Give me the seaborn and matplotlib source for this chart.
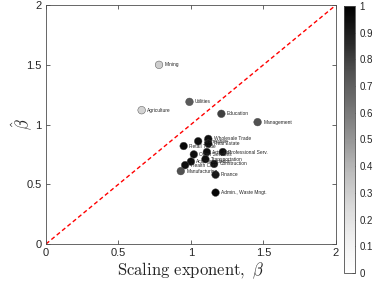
import numpy as np
import pandas as pd
import matplotlib
matplotlib.use("Agg")
import matplotlib.pyplot as plt
import seaborn as sns

# sectors, scaling exponent beta, estimated beta-hat, colour value
sectors = ["Mining", "Agriculture", "Utilities", "Education", "Management",
           "Wholesale Trade", "Real Estate", "Information", "Retail Trade",
           "Arts, Ent.", "Other Services", "Professional Serv.", "Transportation",
           "Accommodation", "Health Care", "Construction", "Manufacturing",
           "Finance", "Admin., Waste Mngt."]
beta = [0.78, 0.66, 0.99, 1.21, 1.46,
        1.12, 1.12, 1.05, 0.95,
        1.11, 1.02, 1.22, 1.10,
        1.00, 0.96, 1.16, 0.93,
        1.17, 1.17]
beta_hat = [1.50, 1.12, 1.19, 1.09, 1.02,
            0.88, 0.84, 0.86, 0.82,
            0.77, 0.75, 0.77, 0.71,
            0.69, 0.66, 0.67, 0.61,
            0.58, 0.43]
shade = [0.30, 0.28, 0.72, 0.80, 0.75,
         0.95, 0.95, 0.95, 0.97,
         0.95, 0.95, 0.95, 0.95,
         0.95, 0.95, 0.95, 0.75,
         0.92, 0.98]

df = pd.DataFrame({"sector": sectors, "beta": beta, "beta_hat": beta_hat, "shade": shade})

sns.set_theme(style="ticks")
plt.rcParams["font.family"] = ["Liberation Sans", "DejaVu Sans"]
plt.rcParams["mathtext.fontset"] = "cm"

fig = plt.figure(figsize=(3.74, 2.84), dpi=100)
ax = fig.add_axes([0.123, 0.141, 0.775, 0.841])
cax = fig.add_axes([0.92, 0.039, 0.029, 0.94])

ax.plot([0, 2], [0, 2], color="red", ls="--", lw=1, dashes=(3, 2))
sns.scatterplot(data=df, x="beta", y="beta_hat", hue="shade", palette="Greys",
                hue_norm=(0, 1), s=30, edgecolor="0.25", linewidth=0.3,
                legend=False, ax=ax, zorder=3)
for s, x, y in zip(sectors, beta, beta_hat):
    ax.annotate(s, (x, y), xytext=(4, 0), textcoords="offset points",
                fontsize=3.5, va="center", ha="left", color="0.15")

ax.set_xlim(0, 2)
ax.set_ylim(0, 2)
ax.set_xticks([0, 0.5, 1, 1.5, 2])
ax.set_yticks([0, 0.5, 1, 1.5, 2])
ax.set_xticklabels(["0", "0.5", "1", "1.5", "2"])
ax.set_yticklabels(["0", "0.5", "1", "1.5", "2"])
ax.tick_params(direction="in", top=True, right=True, labelsize=8, length=3,
               width=0.6, color="0.3", labelcolor="0.15", pad=3)
for sp in ax.spines.values():
    sp.set_linewidth(0.6)
    sp.set_color("0.3")
ax.set_xlabel(r"$\mathrm{Scaling\ exponent,}\ \beta$", fontsize=12, labelpad=2)
ax.set_ylabel(r"$\hat{\beta}$", fontsize=12, va="center")
ax.yaxis.set_label_coords(-0.083, 0.5)

sm = plt.cm.ScalarMappable(cmap="Greys", norm=plt.Normalize(0, 1))
cb = fig.colorbar(sm, cax=cax, ticks=np.arange(0, 1.01, 0.1))
cb.ax.set_yticklabels(["0", "0.1", "0.2", "0.3", "0.4", "0.5", "0.6", "0.7", "0.8", "0.9", "1"])
cb.ax.tick_params(direction="in", labelsize=7, length=2, width=0.5, labelcolor="0.15")
cb.outline.set_linewidth(0.6)
cb.outline.set_edgecolor("0.3")

fig.savefig("out.png", dpi=100)
